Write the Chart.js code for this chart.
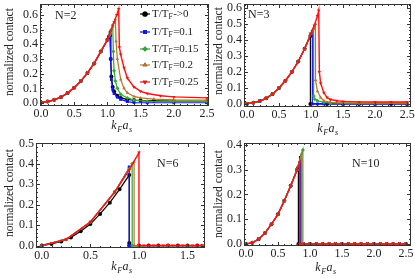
<!doctype html>
<html>
<head>
<script src="https://cdn.jsdelivr.net/npm/chart.js@4.4.0/dist/chart.umd.min.js"></script>
<style>
body { margin: 0; background: #fff; width: 415px; height: 278px; position: relative; overflow: hidden; }
canvas { position: absolute; }
</style>
</head>
<body>
<canvas id="p1" width="218" height="139" style="left:0;top:0"></canvas>
<canvas id="p2" width="208" height="139" style="left:207px;top:0"></canvas>
<canvas id="p3" width="218" height="139" style="left:0;top:139px"></canvas>
<canvas id="p4" width="208" height="139" style="left:207px;top:139px"></canvas>
<script>
// series names (T/T_F)
const tempLabels = ['->0', '=0.1', '=0.15', '=0.2', '=0.25'];
const colors = ['#000000', '#1010ff', '#2eaa2e', '#b8732e', '#ff1010'];

// N=2
const n2RiseX = [0, 0.1, 0.2, 0.3, 0.4, 0.5, 0.6, 0.7, 0.8, 0.9, 1.0];
const n2RiseY = [0.003, 0.01, 0.022, 0.04, 0.068, 0.105, 0.15, 0.205, 0.27, 0.35, 0.43];
const n2T0X = [1.02, 1.04, 1.05, 1.06, 1.08, 1.1, 1.15, 1.2, 1.3, 1.4, 1.5, 1.7, 2.0, 2.5];
const n2T0Y = [0.45, 0.46, 0.3, 0.18, 0.11, 0.08, 0.05, 0.035, 0.025, 0.02, 0.017, 0.015, 0.013, 0.012];
const n2T1X = [1.02, 1.04, 1.05, 1.06, 1.08, 1.1, 1.15, 1.2, 1.3, 1.4, 1.6, 2.0, 2.5];
const n2T1Y = [0.45, 0.48, 0.3, 0.16, 0.09, 0.065, 0.04, 0.025, 0.01, 0.003, 0.002, 0.002, 0.002];
const n2T2X = [1.03, 1.06, 1.08, 1.09, 1.1, 1.12, 1.15, 1.2, 1.3, 1.4, 1.6, 2.0, 2.5];
const n2T2Y = [0.46, 0.5, 0.53, 0.35, 0.22, 0.15, 0.1, 0.06, 0.035, 0.02, 0.012, 0.01, 0.01];
const n2T3X = [1.04, 1.08, 1.12, 1.13, 1.15, 1.2, 1.25, 1.3, 1.4, 1.5, 1.7, 2.0, 2.5];
const n2T3Y = [0.47, 0.52, 0.57, 0.42, 0.3, 0.16, 0.1, 0.07, 0.045, 0.035, 0.027, 0.022, 0.02];
const n2T4X = [1.05, 1.1, 1.14, 1.17, 1.18, 1.2, 1.25, 1.3, 1.4, 1.5, 1.6, 1.8, 2.0, 2.5];
const n2T4Y = [0.49, 0.55, 0.6, 0.64, 0.38, 0.33, 0.24, 0.17, 0.11, 0.08, 0.065, 0.05, 0.042, 0.035];

// N=3
const n3RiseX = [0, 0.1, 0.2, 0.3, 0.4, 0.5, 0.6, 0.7, 0.8, 0.9];
const n3RiseY = [0.002, 0.008, 0.018, 0.035, 0.062, 0.1, 0.145, 0.2, 0.265, 0.345];
const n3T0X = [0.99, 0.99, 1.25, 1.5, 1.75, 2.0, 2.25, 2.5];
const n3T0Y = [0.425, 0, 0, 0, 0, 0, 0, 0];
const n3T1X = [1.0, 1.02, 1.02, 1.1, 1.2, 1.5, 2.0, 2.5];
const n3T1Y = [0.44, 0.455, 0, 0, 0, 0, 0, 0];
const n3T2X = [1.0, 1.04, 1.04, 1.06, 1.1, 1.2, 1.3, 1.5, 1.75, 2.0, 2.5];
const n3T2Y = [0.44, 0.47, 0.05, 0.03, 0.02, 0.01, 0.006, 0.005, 0.005, 0.005, 0.005];
const n3T3X = [1.0, 1.04, 1.07, 1.07, 1.1, 1.15, 1.2, 1.3, 1.5, 2.0, 2.5];
const n3T3Y = [0.44, 0.47, 0.5, 0.15, 0.08, 0.04, 0.02, 0.01, 0.006, 0.005, 0.005];
const n3T4X = [1.0, 1.05, 1.1, 1.12, 1.13, 1.15, 1.2, 1.25, 1.3, 1.4, 1.5, 1.75, 2.0, 2.25, 2.5];
const n3T4Y = [0.44, 0.49, 0.55, 0.585, 0.2, 0.13, 0.07, 0.04, 0.028, 0.02, 0.016, 0.013, 0.012, 0.012, 0.012];

// N=6
const n6T0X = [0, 0.1, 0.2, 0.3, 0.4, 0.5, 0.6, 0.7, 0.8, 0.9, 0.9, 0.9, 1.0, 1.1, 1.2, 1.3, 1.4, 1.5, 1.6];
const n6T0Y = [0, 0.008, 0.02, 0.04, 0.07, 0.105, 0.155, 0.21, 0.275, 0.345, 0.012, 0, 0, 0, 0, 0, 0, 0, 0];
const n6RiseX = [0, 0.25, 0.5, 0.75];
const n6RiseY = [0, 0.03, 0.115, 0.262];
const n6T1X = [0.9, 0.9, 0.9, 1.0, 1.3, 1.65];
const n6T1Y = [0.38, 0.385, 0, 0, 0, 0];
const n6T2X = [0.9, 0.93, 0.93, 1.0, 1.3, 1.65];
const n6T2Y = [0.375, 0.4, 0, 0, 0, 0];
const n6T3X = [0.9, 0.95, 0.95, 1.0, 1.3, 1.65];
const n6T3Y = [0.375, 0.41, 0, 0, 0, 0];
const n6T4X = [0.9, 1.0, 1.0, 1.05, 1.1, 1.15, 1.2, 1.25, 1.3, 1.35, 1.4, 1.45, 1.5, 1.55, 1.6, 1.65];
const n6T4Y = [0.37, 0.455, 0, 0, 0, 0, 0, 0, 0, 0, 0, 0, 0, 0, 0, 0];

// N=10
const n10RiseX = [0, 0.1, 0.2, 0.3, 0.4, 0.5, 0.6, 0.7, 0.8];
const n10RiseY = [0, 0.005, 0.02, 0.045, 0.08, 0.12, 0.175, 0.235, 0.3];
const n10ZeroX = [0.9, 1.0, 1.1, 1.2, 1.3, 1.4, 1.5, 1.6, 1.7, 1.8, 1.9, 2.0, 2.1, 2.2, 2.3, 2.4, 2.5];
const n10PeakX = [0.82, 0.85, 0.89, 0.87, 0.84];
const n10PeakY = [0.31, 0.35, 0.38, 0.365, 0.33];

// tick labels
const xTicks25 = [0, 0.5, 1.0, 1.5, 2.0, 2.5];
const xTicks15 = [0, 0.5, 1.0, 1.5];
const yTicks6 = [0, 0.1, 0.2, 0.3, 0.4, 0.5, 0.6];
const yTicks5 = [0, 0.1, 0.2, 0.3, 0.4, 0.5];
const yTicks4 = [0, 0.1, 0.2, 0.3, 0.4];

const pts = (xs, ys) => xs.map((x, i) => ({ x: x, y: ys[i] }));
const styles = ['circle', 'rect', 'rectRot', 'triangle', 'triangle'];

function series(list) {
  return list.map((d, i) => ({
    data: d,
    borderColor: colors[i],
    backgroundColor: colors[i],
    borderWidth: i === 4 ? 1.4 : 1.2,
    pointStyle: styles[i],
    pointRotation: i === 4 ? 180 : 0,
    pointRadius: 2,
    pointBorderWidth: 0,
    tension: 0,
    order: 4 - i
  }));
}

const serif = "'Liberation Serif', 'DejaVu Serif', serif";

function drawKfas(ctx, cx, cy) {
  ctx.save();
  ctx.fillStyle = '#222';
  ctx.textBaseline = 'alphabetic';
  const big = 'italic 12px ' + serif, small = 'italic 8px ' + serif;
  const parts = [['k', big, 0], ['F', small, 3], ['a', big, 0], ['s', small, 3]];
  let w = 0;
  parts.forEach(p => { ctx.font = p[1]; w += ctx.measureText(p[0]).width + 0.5; });
  let x = cx - w / 2;
  parts.forEach(p => { ctx.font = p[1]; ctx.fillText(p[0], x, cy + 4 + p[2]); x += ctx.measureText(p[0]).width + 0.5; });
  ctx.restore();
}

function drawTT(ctx, x, y, suffix) {
  ctx.font = '11px ' + serif;
  ctx.fillText('T/T', x, y);
  x += ctx.measureText('T/T').width;
  ctx.font = '7.5px ' + serif;
  ctx.fillText('F', x, y + 3);
  x += ctx.measureText('F').width + 0.5;
  ctx.font = '11px ' + serif;
  ctx.fillText(suffix, x, y);
}

const decor = {
  id: 'decor',
  afterDatasetsDraw(chart, args, o) {
    const { ctx, chartArea: a, scales: { x, y } } = chart;
    ctx.save();
    ctx.strokeStyle = '#333';
    ctx.lineWidth = 1;
    // inward frame ticks
    ctx.beginPath();
    for (let k = 0; k <= Math.round(x.max * 10); k++) {
      const px = Math.round(x.getPixelForValue(k / 10)) + 0.5;
      if (px < a.left || px > a.right) continue;
      const len = k % 5 === 0 ? 4 : 2;
      ctx.moveTo(px, a.bottom); ctx.lineTo(px, a.bottom - len);
      ctx.moveTo(px, a.top); ctx.lineTo(px, a.top + len);
    }
    for (let k = 0; k <= Math.round(y.max * 50); k++) {
      const py = Math.round(y.getPixelForValue(k / 50)) + 0.5;
      if (py < a.top || py > a.bottom) continue;
      const len = k % 5 === 0 ? 4 : 2;
      ctx.moveTo(a.left, py); ctx.lineTo(a.left + len, py);
      ctx.moveTo(a.right, py); ctx.lineTo(a.right - len, py);
    }
    ctx.stroke();
    ctx.strokeRect(a.left + 0.5, a.top + 0.5, a.right - a.left - 1, a.bottom - a.top - 1);
    // panel label
    ctx.fillStyle = '#222';
    ctx.font = '12px ' + serif;
    ctx.textBaseline = 'middle';
    ctx.textAlign = 'left';
    ctx.fillText(o.n[0], o.n[1], o.n[2]);
    // y title
    ctx.save();
    ctx.translate(o.yt[0], o.yt[1]);
    ctx.rotate(-Math.PI / 2);
    ctx.textAlign = 'center';
    ctx.font = '11.5px ' + serif;
    ctx.fillText('normalized contact', 0, 0);
    ctx.restore();
    drawKfas(ctx, o.xt[0], o.xt[1]);
    // legend
    if (o.legend) {
      o.legend.forEach((ly, i) => {
        ctx.strokeStyle = colors[i];
        ctx.lineWidth = 1.2;
        ctx.beginPath(); ctx.moveTo(o.lx - 5, ly); ctx.lineTo(o.lx + 5, ly); ctx.stroke();
        Chart.helpers.drawPoint(ctx, { pointStyle: styles[i], rotation: i === 4 ? 180 : 0, radius: 2.6, borderWidth: 0 }, o.lx, ly);
        ctx.fillStyle = colors[i];
        ctx.fill();
        ctx.fillStyle = '#222';
        ctx.textBaseline = 'middle';
        drawTT(ctx, o.lx + 7, ly, tempLabels[i]);
      });
    }
    ctx.restore();
  }
};

function makePanel(id, area, xr, yr, xTicks, yTicks, data, deco) {
  const el = document.getElementById(id);
  const w = el.width, h = el.height;
  const tickFont = { family: serif, size: 12 };
  return new Chart(el, {
    type: 'line',
    data: { datasets: series(data) },
    options: {
      responsive: false,
      animation: false,
      events: [],
      layout: { padding: { left: 0, right: w - area.r, top: area.t, bottom: 0 } },
      plugins: { legend: { display: false }, tooltip: { enabled: false }, decor: deco },
      scales: {
        x: {
          type: 'linear', min: xr[0], max: xr[1],
          grid: { display: false, drawTicks: false }, border: { display: false },
          afterBuildTicks: s => { s.ticks = xTicks.map(v => ({ value: v })); },
          afterFit: s => { s.height = h - area.b; s.paddingLeft = 0; s.paddingRight = 0; },
          ticks: { font: tickFont, color: '#222', padding: 1, autoSkip: false, maxRotation: 0, callback: v => v.toFixed(1) }
        },
        y: {
          type: 'linear', min: yr[0], max: yr[1],
          grid: { display: false, drawTicks: false }, border: { display: false },
          afterBuildTicks: s => { s.ticks = yTicks.map(v => ({ value: v })); },
          afterFit: s => { s.width = area.l; s.paddingTop = 0; s.paddingBottom = 0; },
          ticks: { font: tickFont, color: '#222', padding: 2, autoSkip: false, callback: v => v.toFixed(1) }
        }
      }
    },
    plugins: [decor]
  });
}

makePanel('p1', { l: 40, r: 209, t: 3, b: 106 }, [-0.015, 2.53], [-0.02, 0.674], xTicks25, yTicks6, [
  pts(n2RiseX.concat(n2T0X), n2RiseY.concat(n2T0Y)),
  pts(n2RiseX.concat(n2T1X), n2RiseY.concat(n2T1Y)),
  pts(n2RiseX.concat(n2T2X), n2RiseY.concat(n2T2Y)),
  pts(n2RiseX.concat(n2T3X), n2RiseY.concat(n2T3Y)),
  pts(n2RiseX.concat(n2T4X), n2RiseY.concat(n2T4Y))
], { n: ['N=2', 55, 16], yt: [10, 52], xt: [122, 125], legend: [14, 32, 49, 65, 82], lx: 145 });

makePanel('p2', { l: 37, r: 206, t: 4, b: 107 }, [-0.046, 2.56], [-0.019, 0.625], xTicks25, yTicks6, [
  pts(n3RiseX.concat(n3T0X), n3RiseY.concat(n3T0Y)),
  pts(n3RiseX.concat(n3T1X), n3RiseY.concat(n3T1Y)),
  pts(n3RiseX.concat(n3T2X), n3RiseY.concat(n3T2Y)),
  pts(n3RiseX.concat(n3T3X), n3RiseY.concat(n3T3Y)),
  pts(n3RiseX.concat(n3T4X), n3RiseY.concat(n3T4Y))
], { n: ['N=3', 41, 15], yt: [12, 51], xt: [121, 128] });

makePanel('p3', { l: 36, r: 205, t: 4, b: 109 }, [-0.06, 1.68], [-0.012, 0.502], xTicks15, yTicks5, [
  pts(n6T0X, n6T0Y),
  pts(n6RiseX.concat(n6T1X), n6RiseY.concat(n6T1Y)),
  pts(n6RiseX.concat(n6T2X), n6RiseY.concat(n6T2Y)),
  pts(n6RiseX.concat(n6T3X), n6RiseY.concat(n6T3Y)),
  pts(n6RiseX.concat(n6T4X), n6RiseY.concat(n6T4Y))
], { n: ['N=6', 157, 25], yt: [10, 54], xt: [122, 127] });

makePanel('p4', { l: 37, r: 206, t: 4, b: 107 }, [-0.03, 2.58], [-0.008, 0.408], xTicks25, yTicks4,
  [0, 1, 2, 3, 4].map(i => pts(
    n10RiseX.concat([n10PeakX[i], n10PeakX[i]], n10ZeroX),
    n10RiseY.concat([n10PeakY[i], 0], n10ZeroX.map(() => 0))
  )),
  { n: ['N=10', 145, 25], yt: [12, 55], xt: [119, 128] });
</script>
</body>
</html>
